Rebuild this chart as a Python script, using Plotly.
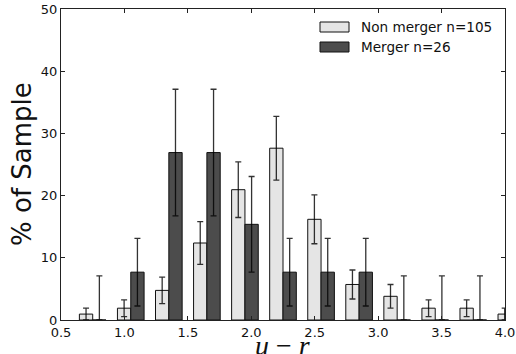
import plotly.graph_objects as go

# u-r bin centres (bin width 0.3)
bin_centers = [0.75, 1.05, 1.35, 1.65, 1.95, 2.25, 2.55, 2.85, 3.15, 3.45, 3.75, 4.05]

# percentage of sample
non_merger = [0.95, 1.90, 4.76, 12.38, 20.95, 27.62, 16.19, 5.71, 3.81, 1.90, 1.90, 0.95]
merger = [0.0, 7.69, 26.92, 26.92, 15.38, 7.69, 7.69, 7.69, 0.0, 0.0, 0.0, 0.0]

# error bars (upper / lower)
non_merger_err = [0.95, 1.35, 2.13, 3.43, 4.47, 5.13, 3.93, 2.33, 1.90, 1.35, 1.35, 0.95]
merger_err_up = [7.08, 5.44, 10.18, 10.18, 7.69, 5.44, 5.44, 5.44, 7.08, 7.08, 7.08, 7.08]
merger_err_down = [0.0, 5.44, 10.18, 10.18, 7.69, 5.44, 5.44, 5.44, 0.0, 0.0, 0.0, 0.0]

names = ["Non merger n=105", "Merger n=26"]
colors = ["#e5e5e5", "#4c4c4c"]

W, H = 516, 354
ml, mr, mt, mb = 61, 11, 9, 34

fig = go.Figure()
fig.add_trace(go.Bar(
    x=bin_centers, y=non_merger, name=names[0],
    marker=dict(color=colors[0], line=dict(color="#111111", width=1)),
    error_y=dict(type="data", array=non_merger_err, symmetric=True,
                 color="rgba(0,0,0,0.8)", thickness=1.3, width=3),
    showlegend=False,
))
fig.add_trace(go.Bar(
    x=bin_centers, y=merger, name=names[1],
    marker=dict(color=colors[1], line=dict(color="#111111", width=1)),
    error_y=dict(type="data", array=merger_err_up, arrayminus=merger_err_down,
                 symmetric=False, color="rgba(0,0,0,0.8)", thickness=1.3, width=3),
    showlegend=False,
))

axis_common = dict(
    showline=True, linecolor="#222222", linewidth=1, mirror="allticks",
    ticks="inside", ticklen=4, tickcolor="#222222", tickwidth=1,
    showgrid=False, zeroline=False, automargin=False,
    tickfont=dict(family="DejaVu Sans", size=13, color="#111111"),
)

fig.update_layout(
    width=W, height=H,
    margin=dict(l=ml, r=mr, t=mt, b=mb, autoexpand=False),
    paper_bgcolor="white", plot_bgcolor="white",
    barmode="group", bargap=0.3, bargroupgap=0,
    xaxis=dict(range=[0.5, 4.0], tickmode="array",
               tickvals=[0.5, 1.0, 1.5, 2.0, 2.5, 3.0, 3.5, 4.0],
               ticktext=["0.5", "1.0", "1.5", "2.0", "2.5", "3.0", "3.5", "4.0"],
               ticklabelstandoff=0, **axis_common),
    yaxis=dict(range=[0, 50], tickmode="array",
               tickvals=[0, 10, 20, 30, 40, 50],
               ticktext=["0", "10", "20", "30", "40", "50"],
               ticklabelstandoff=0, **axis_common),
)

pw = W - ml - mr
ph = H - mt - mb

def px_x(px):
    return (px - ml) / pw

def px_y(py):
    return (H - mb - py) / ph

# axis titles
fig.add_annotation(text="% of Sample", xref="paper", yref="paper",
                   x=px_x(22), y=px_y(164), textangle=-90, showarrow=False,
                   xanchor="center", yanchor="middle",
                   font=dict(family="DejaVu Sans", size=26, color="#111111"))
fig.add_annotation(text="<i>u</i> − <i>r</i>", xref="paper", yref="paper",
                   x=px_x(282), y=px_y(345), showarrow=False,
                   xanchor="center", yanchor="middle",
                   font=dict(family="Liberation Serif", size=28, color="#111111"))

# legend drawn manually
leg_rows = [(27, names[0], colors[0]), (47, names[1], colors[1])]
for yc, name, col in leg_rows:
    fig.add_shape(type="rect", xref="paper", yref="paper",
                  x0=px_x(320), x1=px_x(349), y0=px_y(yc - 5), y1=px_y(yc + 5),
                  fillcolor=col, line=dict(color="#111111", width=1))
    fig.add_annotation(text=name, xref="paper", yref="paper",
                       x=px_x(359), y=px_y(yc), showarrow=False,
                       xanchor="left", yanchor="middle",
                       font=dict(family="DejaVu Sans", size=13.6, color="#111111"))

fig.write_html("out.html")
